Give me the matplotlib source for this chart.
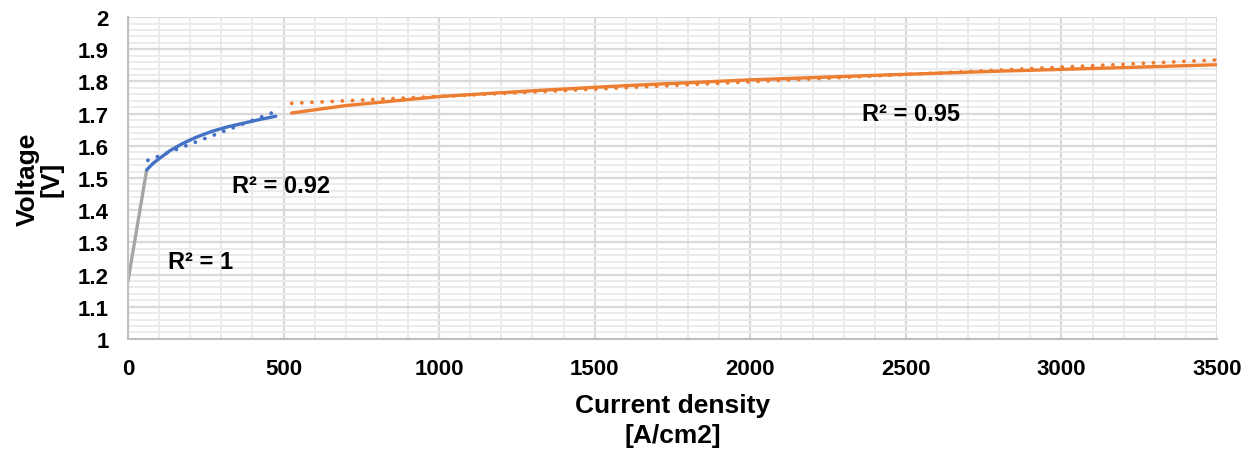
import numpy as np
import matplotlib
matplotlib.use("Agg")
import matplotlib.pyplot as plt
from matplotlib.ticker import MultipleLocator

plt.rcParams["font.family"] = ["Liberation Sans", "DejaVu Sans"]
plt.rcParams["font.weight"] = "bold"

# activation region (grey)
grey_x = [0, 60]
grey_y = [1.18, 1.525]

# ohmic region (blue)
blue_x = [60, 80, 100, 135, 175, 220, 270, 320, 370, 420, 475]
blue_y = [1.525, 1.545, 1.560, 1.585, 1.607, 1.627, 1.645, 1.659, 1.670, 1.681, 1.692]
blue_trend_x = [64, 470]
blue_trend_y = [1.555, 1.705]

# high current region (orange)
orange_x = [526, 700, 1000, 1300, 1600, 2000, 2400, 2800, 3200, 3500]
orange_y = [1.702, 1.725, 1.753, 1.771, 1.787, 1.805, 1.819, 1.832, 1.843, 1.852]
orange_trend_x = [526, 3500]
orange_trend_y = [1.732, 1.867]

r2_labels = ["R² = 1", "R² = 0.92", "R² = 0.95"]
r2_x = [129, 334, 2359]
r2_y = [1.239, 1.478, 1.699]

fig = plt.figure(figsize=(12.55, 4.52), dpi=100)
ax = fig.add_axes([0.102, 0.248, 0.8677, 0.712])

ax.set_xlim(0, 3500)
ax.set_ylim(1, 2)
ax.xaxis.set_major_locator(MultipleLocator(500))
ax.xaxis.set_minor_locator(MultipleLocator(100))
ax.yaxis.set_major_locator(MultipleLocator(0.1))
ax.yaxis.set_minor_locator(MultipleLocator(0.02))
ax.grid(which="minor", color="#EBEBEB", linewidth=1.4)
ax.grid(which="major", color="#D9D9D9", linewidth=1.6)
ax.set_axisbelow(True)

ax.yaxis.set_major_formatter(plt.FuncFormatter(lambda v, p: f"{v:g}"))
ax.tick_params(which="both", length=0, labelsize=16)
ax.tick_params(axis="y", pad=14)
ax.tick_params(axis="x", pad=14)

for side in ["top", "right"]:
    ax.spines[side].set_visible(False)
for side in ["left", "bottom"]:
    ax.spines[side].set_color("#BFBFBF")
    ax.spines[side].set_linewidth(1.5)

lw = 2.4
dots = (0, (0.01, 2.6))
ax.plot(grey_x, grey_y, color="#A5A5A5", lw=lw, solid_capstyle="round")
ax.plot(blue_x, blue_y, color="#4472C4", lw=lw, solid_capstyle="round")
ax.plot(blue_trend_x, blue_trend_y, color="#4472C4", lw=lw + 0.4, linestyle=dots,
        dash_capstyle="round")
ax.plot(orange_x, orange_y, color="#ED7D31", lw=lw, solid_capstyle="round")
ax.plot(orange_trend_x, orange_trend_y, color="#ED7D31", lw=lw + 0.4, linestyle=dots,
        dash_capstyle="round")

for label, x, y in zip(r2_labels, r2_x, r2_y):
    ax.text(x, y, label, fontsize=17, fontweight="bold", ha="left", va="center")

ax.set_xlabel("Current density\n[A/cm2]", fontsize=19, fontweight="bold", labelpad=10,
              linespacing=1.3)
ax.set_ylabel("Voltage\n[V]", fontsize=19, fontweight="bold", labelpad=10,
              linespacing=1.0)

fig.savefig("out.png", dpi=100)
